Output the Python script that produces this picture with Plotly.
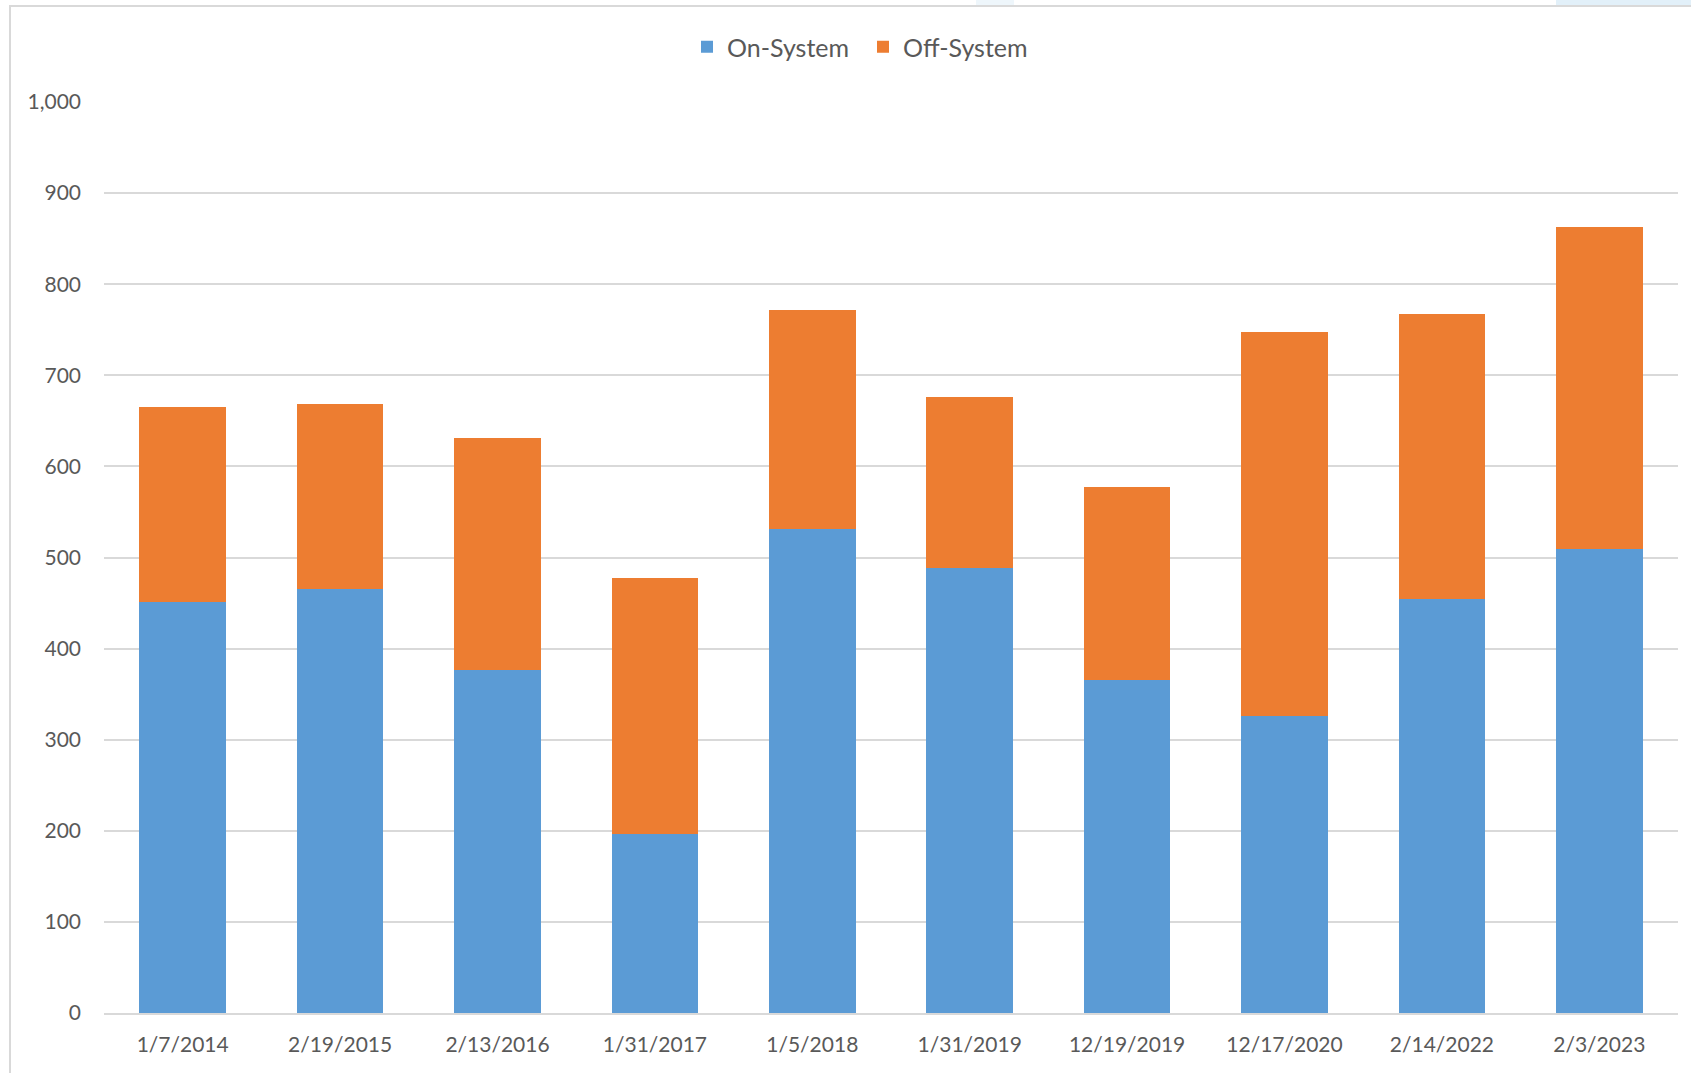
import plotly.graph_objects as go

dates = ["1/7/2014", "2/19/2015", "2/13/2016", "1/31/2017", "1/5/2018",
         "1/31/2019", "12/19/2019", "12/17/2020", "2/14/2022", "2/3/2023"]
on_system = [451, 465, 376, 196, 531, 489, 366, 326, 454, 509]
off_system = [214, 203, 255, 281, 241, 187, 211, 422, 313, 354]
y_ticks = [0, 100, 200, 300, 400, 500, 600, 700, 800, 900, 1000]

W, H = 1691, 1073
ML, MR, MT, MB = 104, 13, 102, 60
PW, PH = W - ML - MR, H - MT - MB

def px_x(p):
    return (p - ML) / PW

def px_y(p):
    return (H - MB - p) / PH

FONT = "Lato"
GRAY = "#595959"

fig = go.Figure()
fig.add_trace(go.Bar(x=dates, y=on_system, name="On-System",
                     marker=dict(color="#5B9BD5", line=dict(width=0))))
fig.add_trace(go.Bar(x=dates, y=off_system, name="Off-System",
                     marker=dict(color="#ED7D31", line=dict(width=0))))

fig.update_layout(
    barmode="stack",
    bargap=0.45,
    width=W, height=H,
    margin=dict(l=ML, r=MR, t=MT, b=MB, pad=0),
    paper_bgcolor="white",
    plot_bgcolor="white",
    font=dict(family=FONT, color=GRAY, size=21),
    legend=dict(orientation="h", x=px_x(687), xanchor="left",
                y=px_y(47), yanchor="middle",
                font=dict(size=25, color=GRAY), traceorder="normal",
                entrywidth=131, entrywidthmode="pixels",
                bgcolor="rgba(0,0,0,0)"),
    xaxis=dict(type="category", showgrid=False, showline=True,
               linecolor="#d9d9d9", linewidth=2, ticks="",
               tickfont=dict(size=21, color=GRAY), ticklabelstandoff=12),
    yaxis=dict(range=[0, 1000], tickvals=y_ticks, tickformat=",",
               showgrid=True, gridcolor="#d9d9d9", gridwidth=2,
               zeroline=False, showline=False, ticks="",
               tickfont=dict(size=21, color=GRAY), ticklabelstandoff=22),
    shapes=[
        dict(type="rect", xref="paper", yref="paper",
             x0=px_x(10), x1=px_x(1720), y0=px_y(6), y1=px_y(1100),
             line=dict(color="#d9d9d9", width=2), fillcolor="rgba(0,0,0,0)",
             layer="below"),
        dict(type="rect", xref="paper", yref="paper",
             x0=px_x(1556), x1=px_x(1700), y0=px_y(0), y1=px_y(5),
             line=dict(width=0), fillcolor="#e2f0f9", layer="below"),
        dict(type="rect", xref="paper", yref="paper",
             x0=px_x(976), x1=px_x(1014), y0=px_y(0), y1=px_y(5),
             line=dict(width=0), fillcolor="#eef6fb", layer="below"),
    ],
)

fig.write_html("out.html", config={"displayModeBar": False},
               post_script="document.body.style.margin='0';document.body.style.overflow='hidden';")
